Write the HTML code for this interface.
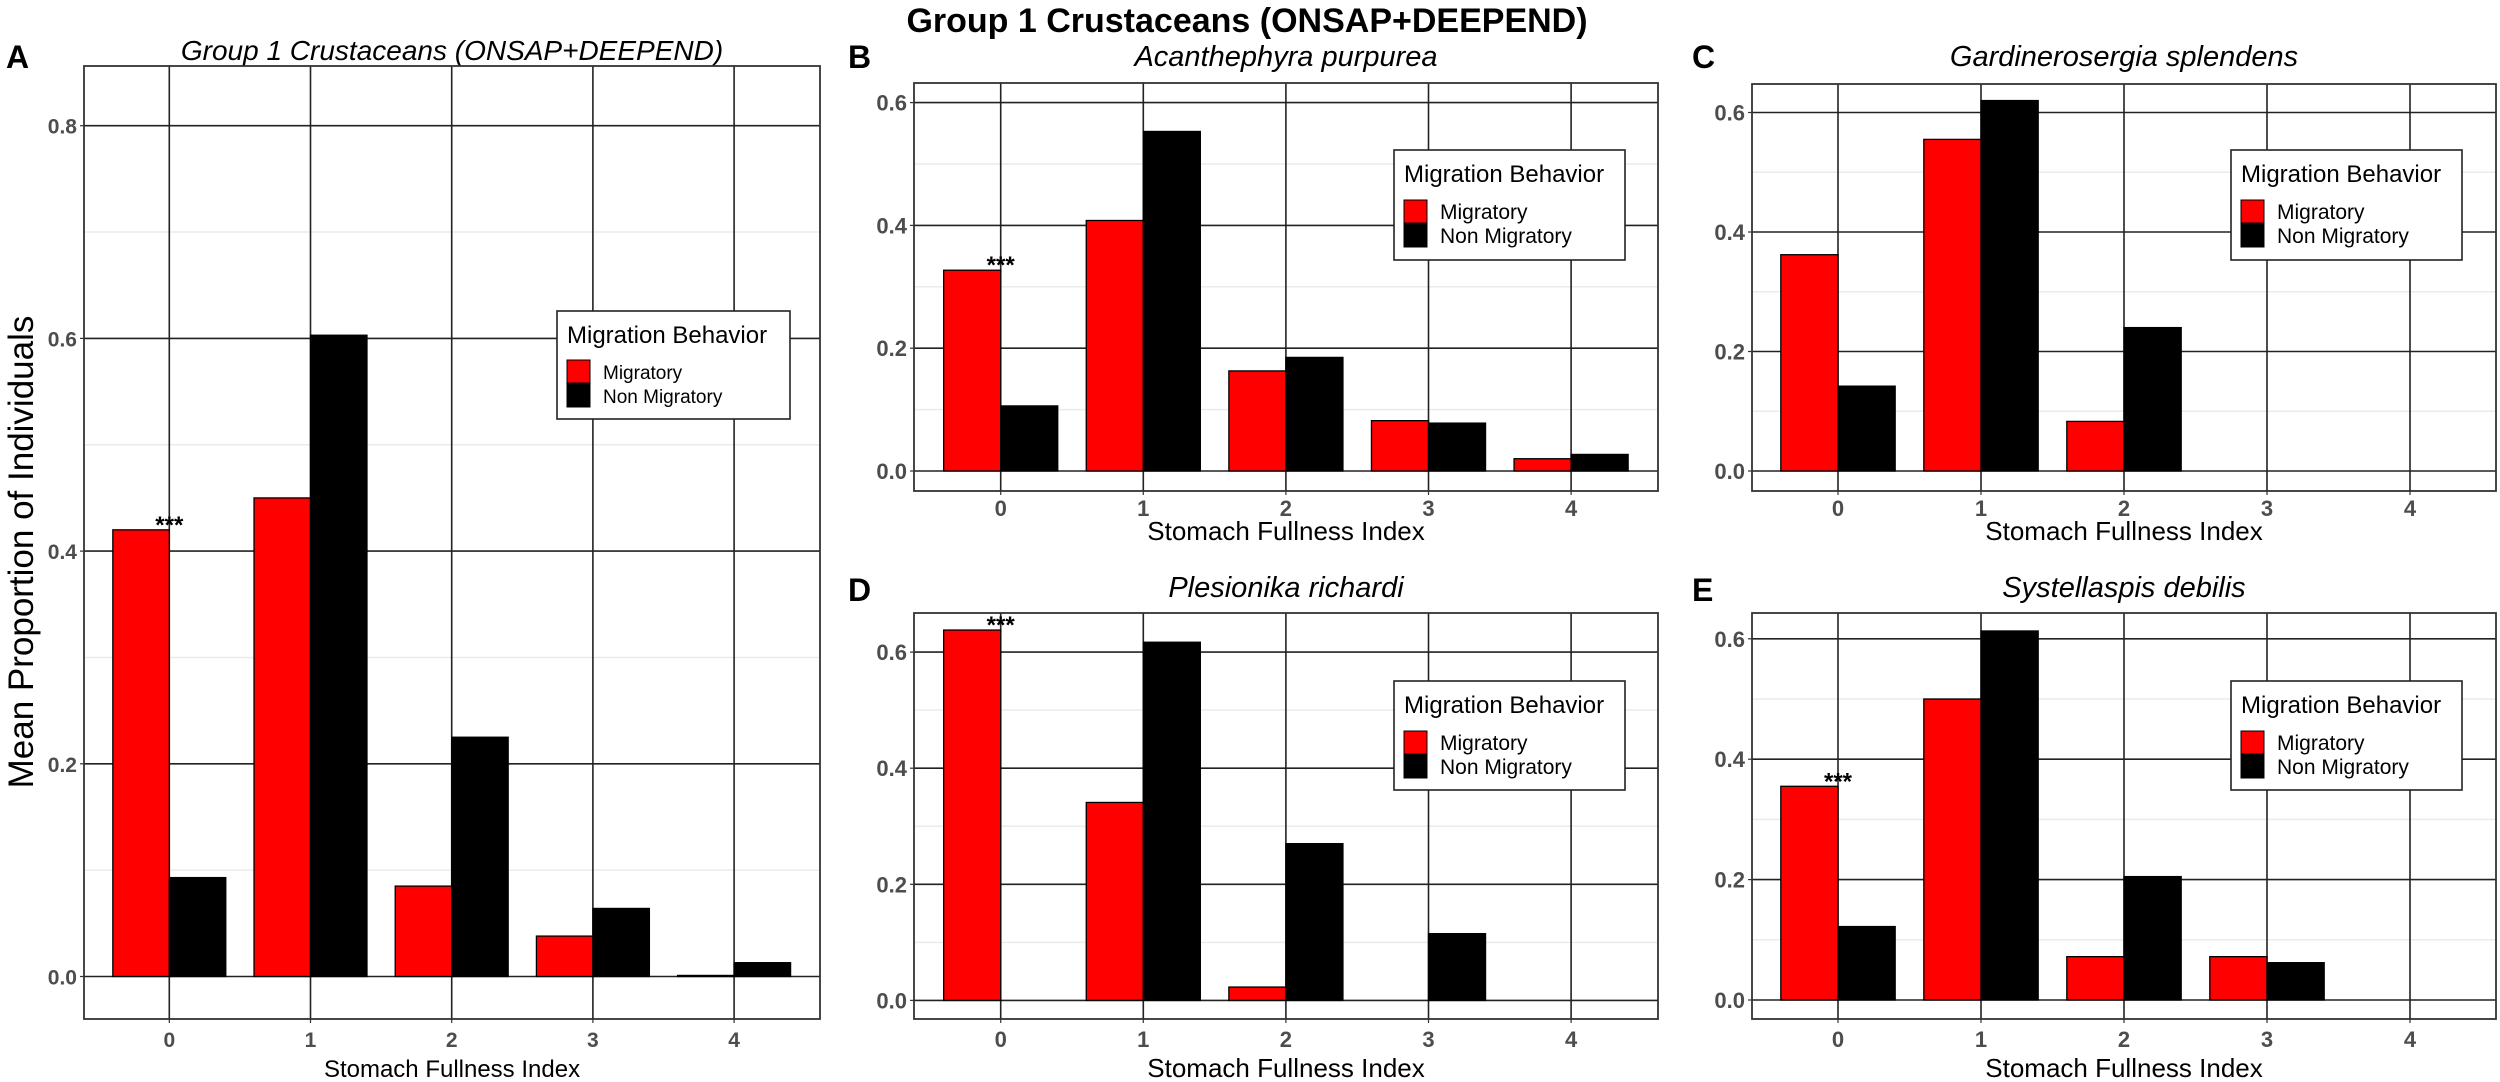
<!DOCTYPE html>
<html><head><meta charset="utf-8">
<style>
html,body{margin:0;padding:0;background:#fff;}
svg{display:block;font-family:"Liberation Sans",Arial,sans-serif;}
</style></head>
<body>
<svg id="fig" width="2500" height="1082" viewBox="0 0 2500 1082">
<text x="1247" y="32" text-anchor="middle" font-size="34" font-weight="bold" fill="#000">Group 1 Crustaceans (ONSAP+DEEPEND)</text>
</svg>
<script>
const categories = [0, 1, 2, 3, 4];
const catLabels = ["0", "1", "2", "3", "4"];
const seriesNames = ["Migratory", "Non Migratory"];
const migA = [0.42, 0.45, 0.085, 0.038, 0.001];
const nonA = [0.093, 0.603, 0.225, 0.064, 0.013];
const migB = [0.327, 0.408, 0.163, 0.082, 0.02];
const nonB = [0.106, 0.553, 0.185, 0.078, 0.027];
const migC = [0.362, 0.555, 0.083, 0, 0];
const nonC = [0.142, 0.62, 0.24, 0, 0];
const migD = [0.638, 0.341, 0.023, 0, 0];
const nonD = [0, 0.617, 0.27, 0.115, 0];
const migE = [0.355, 0.5, 0.072, 0.072, 0];
const nonE = [0.122, 0.613, 0.205, 0.062, 0];
const ticksA = [0, 0.2, 0.4, 0.6, 0.8];
const ticksBE = [0, 0.2, 0.4, 0.6];
const tickLabelsA = ["0.0", "0.2", "0.4", "0.6", "0.8"];
const tickLabelsBE = ["0.0", "0.2", "0.4", "0.6"];
const minorA = [0.1, 0.3, 0.5, 0.7];
const minorBE = [0.1, 0.3, 0.5];

const NS = "http://www.w3.org/2000/svg";
const svg = document.getElementById("fig");
function mk(tag, attrs, parent, text) {
  const e = document.createElementNS(NS, tag);
  for (const k in attrs) e.setAttribute(k, attrs[k]);
  if (text !== undefined) e.textContent = text;
  (parent || svg).appendChild(e);
  return e;
}

const panels = [
  {id:"a", letter:"A", title:"Group 1 Crustaceans (ONSAP+DEEPEND)", mig:migA, non:nonA, ticks:ticksA, tl:tickLabelsA, minor:minorA,
   x0:84, x1:820, y0:66, y1:1019, zeroY:976.5, per02:212.7, cat0:169.3, sp:141.2, star:true,
   lx:557, ly:311, lw:233, lh:108, tf:24, itf:19, titleY:60, letterX:6, letterY:68, tickY:1047, titleX:1077, tickFS:21, subFS:28},
  {id:"b", letter:"B", title:"Acanthephyra purpurea", mig:migB, non:nonB, ticks:ticksBE, tl:tickLabelsBE, minor:minorBE,
   x0:914, x1:1658, y0:83, y1:491, zeroY:471, per02:122.8, cat0:1000.7, sp:142.6, star:true,
   lx:1394, ly:150, lw:231, lh:110, tf:24, itf:21, titleY:66, letterX:848, letterY:68, tickY:516, titleX:540, tickFS:22, subFS:29},
  {id:"c", letter:"C", title:"Gardinerosergia splendens", mig:migC, non:nonC, ticks:ticksBE, tl:tickLabelsBE, minor:minorBE,
   x0:1752, x1:2496, y0:84, y1:491, zeroY:471, per02:119.5, cat0:1838, sp:143, star:false,
   lx:2231, ly:150, lw:231, lh:110, tf:24, itf:21, titleY:66, letterX:1692, letterY:68, tickY:516, titleX:540, tickFS:22, subFS:29},
  {id:"d", letter:"D", title:"Plesionika richardi", mig:migD, non:nonD, ticks:ticksBE, tl:tickLabelsBE, minor:minorBE,
   x0:914, x1:1658, y0:613, y1:1019, zeroY:1000.4, per02:116.1, cat0:1000.7, sp:142.6, star:true,
   lx:1394, ly:681, lw:231, lh:109, tf:24, itf:21, titleY:597, letterX:848, letterY:601, tickY:1047, titleX:1077, tickFS:22, subFS:29},
  {id:"e", letter:"E", title:"Systellaspis debilis", mig:migE, non:nonE, ticks:ticksBE, tl:tickLabelsBE, minor:minorBE,
   x0:1752, x1:2496, y0:613, y1:1019, zeroY:1000, per02:120.4, cat0:1838, sp:143, star:true,
   lx:2231, ly:681, lw:231, lh:109, tf:24, itf:21, titleY:597, letterX:1692, letterY:601, tickY:1047, titleX:1077, tickFS:22, subFS:29}
];

panels.forEach(p => {
  const g = mk("g", {});
  
  
  const yS = v => p.zeroY - v / 0.2 * p.per02;
  const xS = c => p.cat0 + c * p.sp;
  const bw = p.sp * 0.4;

  const lt = mk("text", {x:p.letterX, y:p.letterY, "font-size":32, "font-weight":"bold", fill:"#000"}, g, p.letter);
  
  
  const tt = mk("text", {x:(p.x0+p.x1)/2, y:p.titleY, "text-anchor":"middle", "font-size":p.subFS, "font-style":"italic", fill:"#000"}, g, p.title);
  
  

  p.minor.forEach(v => {
    const l = mk("line", {x1:p.x0, x2:p.x1, y1:yS(v), y2:yS(v), stroke:"#ebebeb", "stroke-width":1.5}, g);
    
    
  });
  p.ticks.forEach((v, i) => {
    const l = mk("line", {x1:p.x0, x2:p.x1, y1:yS(v), y2:yS(v), stroke:"#222", "stroke-width":1.6}, g);
    
    
    const t = mk("text", {x:p.x0-7, y:yS(v)+8, "text-anchor":"end", "font-size":p.tickFS, "font-weight":"bold", fill:"#4d4d4d"}, g, p.tl[i]);
    
    
    mk("line", {x1:p.x0-4, x2:p.x0, y1:yS(v), y2:yS(v), stroke:"#333", "stroke-width":1.2}, g);
  });
  categories.forEach((c, i) => {
    const l = mk("line", {x1:xS(c), x2:xS(c), y1:p.y0, y2:p.y1, stroke:"#222", "stroke-width":1.6}, g);
    
    
    mk("line", {x1:xS(c), x2:xS(c), y1:p.y1, y2:p.y1+4, stroke:"#333", "stroke-width":1.2}, g);
    const t = mk("text", {x:xS(c), y:p.tickY, "text-anchor":"middle", "font-size":p.tickFS, "font-weight":"bold", fill:"#4d4d4d"}, g, catLabels[i]);
    
    
  });
  categories.forEach((c, i) => {
    const vm = p.mig[i], vn = p.non[i];
    const rm = mk("rect", {x:xS(c)-bw, y:Math.min(yS(vm), p.zeroY), width:bw, height:Math.abs(p.zeroY-yS(vm)), fill:"#ff0000", stroke:"#000", "stroke-width":1.3}, g);
    
    
    const rn = mk("rect", {x:xS(c), y:Math.min(yS(vn), p.zeroY), width:bw, height:Math.abs(p.zeroY-yS(vn)), fill:"#000", stroke:"#000", "stroke-width":1.3}, g);
    
    
  });
  if (p.star) {
    const s = mk("text", {x:xS(0), y:yS(p.mig[0])+3, "text-anchor":"middle", "font-size":24, "font-weight":"bold", fill:"#000"}, g, "***");
    
    
  }
  const b = mk("rect", {x:p.x0, y:p.y0, width:p.x1-p.x0, height:p.y1-p.y0, fill:"none", stroke:"#333", "stroke-width":1.8}, g);
  
  
  const xt = mk("text", {x:(p.x0+p.x1)/2, y:p.titleX, "text-anchor":"middle", "font-size":p.id==="a"?24:26, fill:"#000"}, g, "Stomach Fullness Index");
  
  
  const lg = mk("g", {}, g);
  
  
  mk("rect", {x:p.lx, y:p.ly, width:p.lw, height:p.lh, fill:"#fff", stroke:"#222", "stroke-width":1.6}, lg);
  const lgt = mk("text", {x:p.lx+10, y:p.ly+p.tf+8, "font-size":p.tf, fill:"#000"}, lg, "Migration Behavior");
  
  
  const keyH = 24;
  const ky0 = p.ly + (p.id==="a" ? 49 : 50);
  seriesNames.forEach((n, i) => {
    const e = mk("g", {}, lg);
    
    
    mk("rect", {x:p.lx+10, y:ky0+i*keyH, width:23, height:keyH-1, fill:i===0?"#ff0000":"#000", stroke:"#000", "stroke-width":1}, e);
    mk("text", {x:p.lx+46, y:ky0+i*keyH+keyH-5, "font-size":p.itf, fill:"#000"}, e, n);
  });
});

const yt = mk("text", {x:0, y:0, transform:"translate(33,552) rotate(-90)", "text-anchor":"middle", "font-size":35, fill:"#000"}, svg, "Mean Proportion of Individuals");


</script>
</body></html>
